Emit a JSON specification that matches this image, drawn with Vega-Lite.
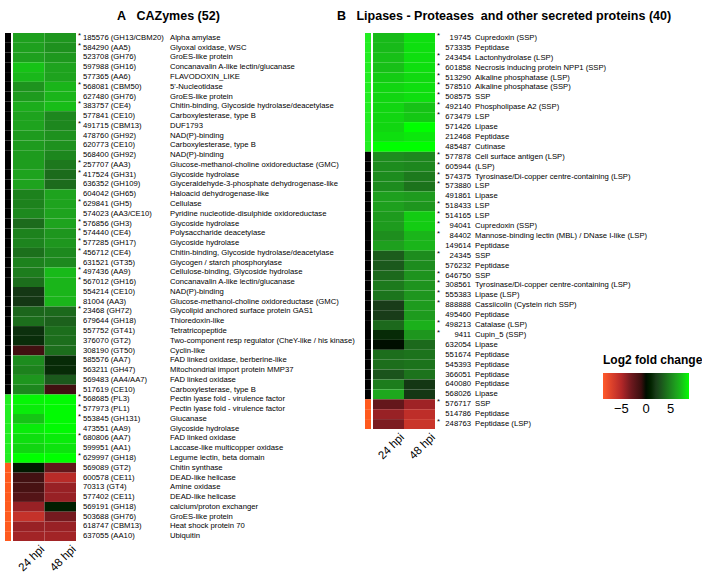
{
  "$schema": "https://vega.github.io/schema/vega-lite/v6.json",
  "padding": {"left": 5, "top": 9, "right": 5, "bottom": 0},
  "config": {"view": {"stroke": null}, "font": "Liberation Sans", "text": {"font": "Liberation Sans"}},
  "datasets": {
    "A": [
      {"n":1,"id":"185576 (GH13/CBM20)","desc":"Alpha amylase","s":1,"g":"other","24 hpi":6.0,"48 hpi":5.6},
      {"n":2,"id":"584290 (AA5)","desc":"Glyoxal oxidase, WSC","s":1,"g":"other","24 hpi":6.0,"48 hpi":5.4},
      {"n":3,"id":"523708 (GH76)","desc":"GroES-like protein","s":0,"g":"other","24 hpi":6.0,"48 hpi":5.7},
      {"n":4,"id":"597988 (GH16)","desc":"Concanavalin A-like lectin/glucanase","s":0,"g":"other","24 hpi":7.3,"48 hpi":6.1},
      {"n":5,"id":"577365 (AA6)","desc":"FLAVODOXIN_LIKE","s":0,"g":"other","24 hpi":6.9,"48 hpi":6.1},
      {"n":6,"id":"568081 (CBM50)","desc":"5'-Nucleotidase","s":1,"g":"other","24 hpi":5.5,"48 hpi":6.8},
      {"n":7,"id":"627480 (GH76)","desc":"GroES-like protein","s":0,"g":"other","24 hpi":5.8,"48 hpi":6.8},
      {"n":8,"id":"383757 (CE4)","desc":"Chitin-binding, Glycoside hydrolase/deacetylase","s":1,"g":"other","24 hpi":6.5,"48 hpi":7.1},
      {"n":9,"id":"577841 (CE10)","desc":"Carboxylesterase, type B","s":0,"g":"other","24 hpi":6.1,"48 hpi":5.0},
      {"n":10,"id":"491715 (CBM13)","desc":"DUF1793","s":1,"g":"other","24 hpi":6.1,"48 hpi":5.0},
      {"n":11,"id":"478760 (GH92)","desc":"NAD(P)-binding","s":0,"g":"other","24 hpi":5.8,"48 hpi":5.4},
      {"n":12,"id":"620773 (CE10)","desc":"Carboxylesterase, type B","s":0,"g":"other","24 hpi":5.8,"48 hpi":5.4},
      {"n":13,"id":"568400 (GH92)","desc":"NAD(P)-binding","s":0,"g":"other","24 hpi":5.8,"48 hpi":5.0},
      {"n":14,"id":"257707 (AA3)","desc":"Glucose-methanol-choline oxidoreductase (GMC)","s":1,"g":"other","24 hpi":5.9,"48 hpi":4.4},
      {"n":15,"id":"417524 (GH31)","desc":"Glycoside hydrolase","s":1,"g":"other","24 hpi":6.1,"48 hpi":3.9},
      {"n":16,"id":"636352 (GH109)","desc":"Glyceraldehyde-3-phosphate dehydrogenase-like","s":0,"g":"other","24 hpi":6.1,"48 hpi":3.9},
      {"n":17,"id":"604042 (GH65)","desc":"Haloacid dehydrogenase-like","s":0,"g":"other","24 hpi":4.8,"48 hpi":6.1},
      {"n":18,"id":"629841 (GH5)","desc":"Cellulase","s":1,"g":"other","24 hpi":4.8,"48 hpi":6.1},
      {"n":19,"id":"574023 (AA3/CE10)","desc":"Pyridine nucleotide-disulphide oxidoreductase","s":0,"g":"other","24 hpi":5.1,"48 hpi":6.1},
      {"n":20,"id":"576856 (GH3)","desc":"Glycoside hydrolase","s":1,"g":"other","24 hpi":3.9,"48 hpi":6.1},
      {"n":21,"id":"574440 (CE4)","desc":"Polysaccharide deacetylase","s":1,"g":"other","24 hpi":4.8,"48 hpi":5.6},
      {"n":22,"id":"577285 (GH17)","desc":"Glycoside hydrolase","s":1,"g":"other","24 hpi":4.9,"48 hpi":5.6},
      {"n":23,"id":"456712 (CE4)","desc":"Chitin-binding, Glycoside hydrolase/deacetylase","s":1,"g":"other","24 hpi":4.1,"48 hpi":5.1},
      {"n":24,"id":"631521 (GT35)","desc":"Glycogen / starch phosphorylase","s":0,"g":"other","24 hpi":4.8,"48 hpi":5.1},
      {"n":25,"id":"497436 (AA9)","desc":"Cellulose-binding, Glycoside hydrolase","s":1,"g":"other","24 hpi":4.6,"48 hpi":7.0},
      {"n":26,"id":"567012 (GH16)","desc":"Concanavalin A-like lectin/glucanase","s":1,"g":"other","24 hpi":4.0,"48 hpi":6.8},
      {"n":27,"id":"554214 (CE10)","desc":"NAD(P)-binding","s":0,"g":"other","24 hpi":1.8,"48 hpi":6.8},
      {"n":28,"id":"81004 (AA3)","desc":"Glucose-methanol-choline oxidoreductase (GMC)","s":0,"g":"other","24 hpi":1.8,"48 hpi":6.8},
      {"n":29,"id":"23468 (GH72)","desc":"Glycolipid anchored surface protein GAS1","s":1,"g":"other","24 hpi":3.7,"48 hpi":3.8},
      {"n":30,"id":"679644 (GH18)","desc":"Thioredoxin-like","s":0,"g":"other","24 hpi":4.0,"48 hpi":3.5},
      {"n":31,"id":"557752 (GT41)","desc":"Tetratricopeptide","s":0,"g":"other","24 hpi":1.5,"48 hpi":4.0},
      {"n":32,"id":"376070 (GT2)","desc":"Two-component resp regulator (CheY-like / his kinase)","s":0,"g":"other","24 hpi":1.4,"48 hpi":4.0},
      {"n":33,"id":"308190 (GT50)","desc":"Cyclin-like","s":0,"g":"other","24 hpi":-1.2,"48 hpi":4.0},
      {"n":34,"id":"585576 (AA7)","desc":"FAD linked oxidase, berberine-like","s":0,"g":"other","24 hpi":5.2,"48 hpi":1.3},
      {"n":35,"id":"563211 (GH47)","desc":"Mitochondrial import protein MMP37","s":0,"g":"other","24 hpi":4.8,"48 hpi":1.3},
      {"n":36,"id":"569483 (AA4/AA7)","desc":"FAD linked oxidase","s":0,"g":"other","24 hpi":5.6,"48 hpi":3.2},
      {"n":37,"id":"517619 (CE10)","desc":"Carboxylesterase, type B","s":0,"g":"other","24 hpi":5.0,"48 hpi":-1.2},
      {"n":38,"id":"568685 (PL3)","desc":"Pectin lyase fold - virulence factor","s":1,"g":"up","24 hpi":8.5,"48 hpi":8.6},
      {"n":39,"id":"577973 (PL1)","desc":"Pectin lyase fold - virulence factor","s":1,"g":"up","24 hpi":8.3,"48 hpi":8.6},
      {"n":40,"id":"553845 (GH131)","desc":"Glucanase","s":1,"g":"up","24 hpi":7.4,"48 hpi":8.6},
      {"n":41,"id":"473551 (AA9)","desc":"Glycoside hydrolase","s":0,"g":"up","24 hpi":8.3,"48 hpi":8.6},
      {"n":42,"id":"680806 (AA7)","desc":"FAD linked oxidase","s":1,"g":"up","24 hpi":8.0,"48 hpi":8.3},
      {"n":43,"id":"599951 (AA1)","desc":"Laccase-like multicopper oxidase","s":0,"g":"up","24 hpi":7.8,"48 hpi":8.1},
      {"n":44,"id":"629997 (GH18)","desc":"Legume lectin, beta domain","s":1,"g":"up","24 hpi":8.7,"48 hpi":8.7},
      {"n":45,"id":"569089 (GT2)","desc":"Chitin synthase","s":0,"g":"down","24 hpi":0.5,"48 hpi":-2.5},
      {"n":46,"id":"600578 (CE11)","desc":"DEAD-like helicase","s":0,"g":"down","24 hpi":-1.3,"48 hpi":-5.2},
      {"n":47,"id":"70313 (GT4)","desc":"Amine oxidase","s":0,"g":"down","24 hpi":-1.5,"48 hpi":-4.2},
      {"n":48,"id":"577402 (CE11)","desc":"DEAD-like helicase","s":0,"g":"down","24 hpi":-2.0,"48 hpi":-4.2},
      {"n":49,"id":"569191 (GH18)","desc":"calcium/proton exchanger","s":0,"g":"down","24 hpi":-4.2,"48 hpi":0.7},
      {"n":50,"id":"503688 (GH76)","desc":"GroES-like protein","s":0,"g":"down","24 hpi":-5.8,"48 hpi":-3.2},
      {"n":51,"id":"618747 (CBM13)","desc":"Heat shock protein 70","s":0,"g":"down","24 hpi":-4.2,"48 hpi":-4.2},
      {"n":52,"id":"637055 (AA10)","desc":"Ubiquitin","s":0,"g":"down","24 hpi":-4.5,"48 hpi":-4.5}
    ],
    "B": [
      {"n":1,"id":"19745","desc":"Cupredoxin (SSP)","s":1,"g":"up","24 hpi":7.0,"48 hpi":8.0},
      {"n":2,"id":"573335","desc":"Peptidase","s":0,"g":"up","24 hpi":7.0,"48 hpi":8.0},
      {"n":3,"id":"243454","desc":"Lactonhydrolase (LSP)","s":1,"g":"up","24 hpi":7.2,"48 hpi":8.0},
      {"n":4,"id":"601858","desc":"Necrosis inducing protein NPP1 (SSP)","s":1,"g":"up","24 hpi":7.2,"48 hpi":8.0},
      {"n":5,"id":"513290","desc":"Alkaline phosphatase (LSP)","s":1,"g":"up","24 hpi":7.6,"48 hpi":7.9},
      {"n":6,"id":"578510","desc":"Alkaline phosphatase (SSP)","s":1,"g":"up","24 hpi":7.8,"48 hpi":8.0},
      {"n":7,"id":"508575","desc":"SSP","s":1,"g":"up","24 hpi":7.8,"48 hpi":8.0},
      {"n":8,"id":"492140","desc":"Phospholipase A2 (SSP)","s":1,"g":"up","24 hpi":7.8,"48 hpi":7.3},
      {"n":9,"id":"673479","desc":"LSP","s":1,"g":"up","24 hpi":7.8,"48 hpi":7.5},
      {"n":10,"id":"571426","desc":"Lipase","s":0,"g":"up","24 hpi":7.8,"48 hpi":8.7},
      {"n":11,"id":"212468","desc":"Peptidase","s":0,"g":"up","24 hpi":8.0,"48 hpi":8.2},
      {"n":12,"id":"485487","desc":"Cutinase","s":0,"g":"up","24 hpi":8.7,"48 hpi":8.7},
      {"n":13,"id":"577878","desc":"Cell surface antigen (LSP)","s":1,"g":"other","24 hpi":5.2,"48 hpi":5.0},
      {"n":14,"id":"605944","desc":"(LSP)","s":1,"g":"other","24 hpi":5.2,"48 hpi":5.0},
      {"n":15,"id":"574375","desc":"Tyrosinase/Di-copper centre-containing (LSP)","s":1,"g":"other","24 hpi":5.2,"48 hpi":4.5},
      {"n":16,"id":"573880","desc":"LSP","s":1,"g":"other","24 hpi":5.2,"48 hpi":4.2},
      {"n":17,"id":"491861","desc":"Lipase","s":0,"g":"other","24 hpi":6.0,"48 hpi":5.8},
      {"n":18,"id":"518433","desc":"LSP","s":1,"g":"other","24 hpi":6.0,"48 hpi":5.6},
      {"n":19,"id":"514165","desc":"LSP","s":1,"g":"other","24 hpi":5.8,"48 hpi":7.6},
      {"n":20,"id":"94041","desc":"Cupredoxin (SSP)","s":1,"g":"other","24 hpi":5.8,"48 hpi":7.6},
      {"n":21,"id":"84402","desc":"Mannose-binding lectin (MBL) / DNase I-like (LSP)","s":1,"g":"other","24 hpi":5.3,"48 hpi":6.8},
      {"n":22,"id":"149614","desc":"Peptidase","s":0,"g":"other","24 hpi":6.0,"48 hpi":6.8},
      {"n":23,"id":"24345","desc":"SSP","s":1,"g":"other","24 hpi":3.3,"48 hpi":5.2},
      {"n":24,"id":"576232","desc":"Peptidase","s":0,"g":"other","24 hpi":3.2,"48 hpi":5.2},
      {"n":25,"id":"646750","desc":"SSP","s":1,"g":"other","24 hpi":3.8,"48 hpi":5.5},
      {"n":26,"id":"308561","desc":"Tyrosinase/Di-copper centre-containing (LSP)","s":1,"g":"other","24 hpi":4.5,"48 hpi":5.5},
      {"n":27,"id":"555383","desc":"Lipase (LSP)","s":1,"g":"other","24 hpi":4.3,"48 hpi":5.6},
      {"n":28,"id":"888888","desc":"Cassiicolin (Cystein rich SSP)","s":1,"g":"other","24 hpi":2.0,"48 hpi":5.8},
      {"n":29,"id":"495460","desc":"Peptidase","s":0,"g":"other","24 hpi":2.0,"48 hpi":5.8},
      {"n":30,"id":"498213","desc":"Catalase (LSP)","s":1,"g":"other","24 hpi":3.8,"48 hpi":6.6},
      {"n":31,"id":"9411","desc":"Cupin_5 (SSP)","s":1,"g":"other","24 hpi":1.3,"48 hpi":5.6},
      {"n":32,"id":"632054","desc":"Lipase","s":0,"g":"other","24 hpi":0.0,"48 hpi":3.8},
      {"n":33,"id":"551674","desc":"Peptidase","s":0,"g":"other","24 hpi":4.0,"48 hpi":4.2},
      {"n":34,"id":"545393","desc":"Peptidase","s":0,"g":"other","24 hpi":4.0,"48 hpi":4.2},
      {"n":35,"id":"366051","desc":"Peptidase","s":0,"g":"other","24 hpi":3.0,"48 hpi":4.2},
      {"n":36,"id":"640080","desc":"Peptidase","s":0,"g":"other","24 hpi":4.6,"48 hpi":1.8},
      {"n":37,"id":"568026","desc":"Lipase","s":0,"g":"other","24 hpi":6.3,"48 hpi":1.8},
      {"n":38,"id":"576717","desc":"SSP","s":1,"g":"down","24 hpi":-2.6,"48 hpi":-4.4},
      {"n":39,"id":"514786","desc":"Peptidase","s":0,"g":"down","24 hpi":-4.2,"48 hpi":-5.5},
      {"n":40,"id":"248763","desc":"Peptidase (LSP)","s":1,"g":"down","24 hpi":-3.4,"48 hpi":-6.0}
    ]
  },
  "bounds": "flush",
  "spacing": 2,
  "hconcat": [
    {
      "data": {"name": "A"}, "width": 6, "height": 508,
      "mark": {"type": "rect"},
      "encoding": {
        "y": {"field": "n", "type": "ordinal", "axis": null, "scale": {"paddingInner": 0, "paddingOuter": 0}},
        "fill": {"field": "g", "type": "nominal", "scale": {"domain": ["other", "up", "down"], "range": ["#000000", "#22ee22", "#ff5a1e"]}, "legend": null}
      }
    },
    {
      "data": {"name": "A"}, "width": 63, "height": 508,
      "title": {"text": "A\u00a0\u00a0 CAZymes (52)", "fontSize": 12.5, "fontWeight": "bold", "offset": 11, "anchor": "start", "dx": 104, "color": "#000"},
      "transform": [{"fold": ["24 hpi", "48 hpi"], "as": ["hpi", "value"]}],
      "mark": {"type": "rect"},
      "encoding": {
        "x": {"field": "hpi", "type": "nominal", "scale": {"paddingInner": 0, "paddingOuter": 0},
              "axis": {"title": null, "labelAngle": -45, "labelFontSize": 11.5, "ticks": false, "domain": false, "labelPadding": 2, "labelOffset": 10, "labelColor": "#000"}},
        "y": {"field": "n", "type": "ordinal", "axis": null, "scale": {"paddingInner": 0, "paddingOuter": 0}},
        "color": {"field": "value", "type": "quantitative",
                  "scale": {"domain": [-8.7, -5, -3, -1, 0, 2, 4, 6, 7.5, 8.7], "range": ["#ff5a2a", "#b42828", "#6e191e", "#3c0f0f", "#000000", "#193c19", "#1c6e1c", "#1ea01e", "#14c814", "#00ff00"], "clamp": true},
                  "legend": {"title": "Log2 fold change", "orient": "none", "legendX": 598, "legendY": 322, "direction": "horizontal", "gradientLength": 86, "gradientThickness": 26, "values": [-5, 0, 5], "titleFontSize": 12, "titleFontWeight": "bold", "labelFontSize": 13, "titleColor": "#000", "labelColor": "#000", "gradientStrokeWidth": 0, "titlePadding": 6, "labelOffset": 4, "titleLimit": 200}}
      }
    },
    {
      "data": {"name": "A"}, "width": 90, "height": 508,
      "layer": [
        {
          "mark": {"type": "text", "align": "left", "baseline": "middle", "fontSize": 7.7, "dx": 5, "color": "#000"},
          "encoding": {
            "y": {"field": "n", "type": "ordinal", "axis": null},
            "x": {"datum": 0, "type": "quantitative", "scale": {"domain": [0, 1]}, "axis": null},
            "text": {"field": "id"}
          }
        },
        {
          "transform": [{"filter": "datum.s == 1"}],
          "mark": {"type": "text", "align": "left", "baseline": "middle", "fontSize": 7.7, "dy": -2, "color": "#000"},
          "encoding": {
            "y": {"field": "n", "type": "ordinal", "axis": null},
            "x": {"datum": 0, "type": "quantitative", "scale": {"domain": [0, 1]}, "axis": null},
            "text": {"value": "*"}
          }
        }
      ]
    },
    {
      "data": {"name": "A"}, "width": 193, "height": 508,
      "mark": {"type": "text", "align": "left", "baseline": "middle", "fontSize": 7.7, "color": "#000"},
      "encoding": {
        "y": {"field": "n", "type": "ordinal", "axis": null},
        "x": {"datum": 0, "type": "quantitative", "scale": {"domain": [0, 1]}, "axis": null},
        "text": {"field": "desc"}
      }
    },
    {
      "data": {"name": "B"}, "width": 6, "height": 396,
      "mark": {"type": "rect"},
      "encoding": {
        "y": {"field": "n", "type": "ordinal", "axis": null, "scale": {"paddingInner": 0, "paddingOuter": 0}},
        "fill": {"field": "g", "type": "nominal", "scale": {"domain": ["other", "up", "down"], "range": ["#000000", "#22ee22", "#ff5a1e"]}, "legend": null}
      }
    },
    {
      "data": {"name": "B"}, "width": 62, "height": 396,
      "title": {"text": "B\u00a0\u00a0 Lipases - Proteases\u00a0 and other secreted proteins (40)", "fontSize": 12.5, "fontWeight": "bold", "offset": 11, "anchor": "start", "dx": -36, "color": "#000"},
      "transform": [{"fold": ["24 hpi", "48 hpi"], "as": ["hpi", "value"]}],
      "mark": {"type": "rect"},
      "encoding": {
        "x": {"field": "hpi", "type": "nominal", "scale": {"paddingInner": 0, "paddingOuter": 0},
              "axis": {"title": null, "labelAngle": -45, "labelFontSize": 11.5, "ticks": false, "domain": false, "labelPadding": 2, "labelOffset": 10, "labelColor": "#000"}},
        "y": {"field": "n", "type": "ordinal", "axis": null, "scale": {"paddingInner": 0, "paddingOuter": 0}},
        "color": {"field": "value", "type": "quantitative",
                  "scale": {"domain": [-8.7, -5, -3, -1, 0, 2, 4, 6, 7.5, 8.7], "range": ["#ff5a2a", "#b42828", "#6e191e", "#3c0f0f", "#000000", "#193c19", "#1c6e1c", "#1ea01e", "#14c814", "#00ff00"], "clamp": true},
                  "legend": {"title": "Log2 fold change", "orient": "none", "legendX": 598, "legendY": 322, "direction": "horizontal", "gradientLength": 86, "gradientThickness": 26, "values": [-5, 0, 5], "titleFontSize": 12, "titleFontWeight": "bold", "labelFontSize": 13, "titleColor": "#000", "labelColor": "#000", "gradientStrokeWidth": 0, "titlePadding": 6, "labelOffset": 4, "titleLimit": 200}}
      }
    },
    {
      "data": {"name": "B"}, "width": 34, "height": 396,
      "layer": [
        {
          "mark": {"type": "text", "align": "right", "baseline": "middle", "fontSize": 7.7, "color": "#000"},
          "encoding": {
            "y": {"field": "n", "type": "ordinal", "axis": null},
            "x": {"datum": 1, "type": "quantitative", "scale": {"domain": [0, 1]}, "axis": null},
            "text": {"field": "id"}
          }
        },
        {
          "transform": [{"filter": "datum.s == 1"}],
          "mark": {"type": "text", "align": "left", "baseline": "middle", "fontSize": 7.7, "dy": -2, "color": "#000"},
          "encoding": {
            "y": {"field": "n", "type": "ordinal", "axis": null},
            "x": {"datum": 0, "type": "quantitative", "scale": {"domain": [0, 1]}, "axis": null},
            "text": {"value": "*"}
          }
        }
      ]
    },
    {
      "data": {"name": "B"}, "width": 176, "height": 396,
      "mark": {"type": "text", "align": "left", "baseline": "middle", "fontSize": 7.7, "dx": 2, "color": "#000"},
      "encoding": {
        "y": {"field": "n", "type": "ordinal", "axis": null},
        "x": {"datum": 0, "type": "quantitative", "scale": {"domain": [0, 1]}, "axis": null},
        "text": {"field": "desc"}
      }
    }
  ]
}
